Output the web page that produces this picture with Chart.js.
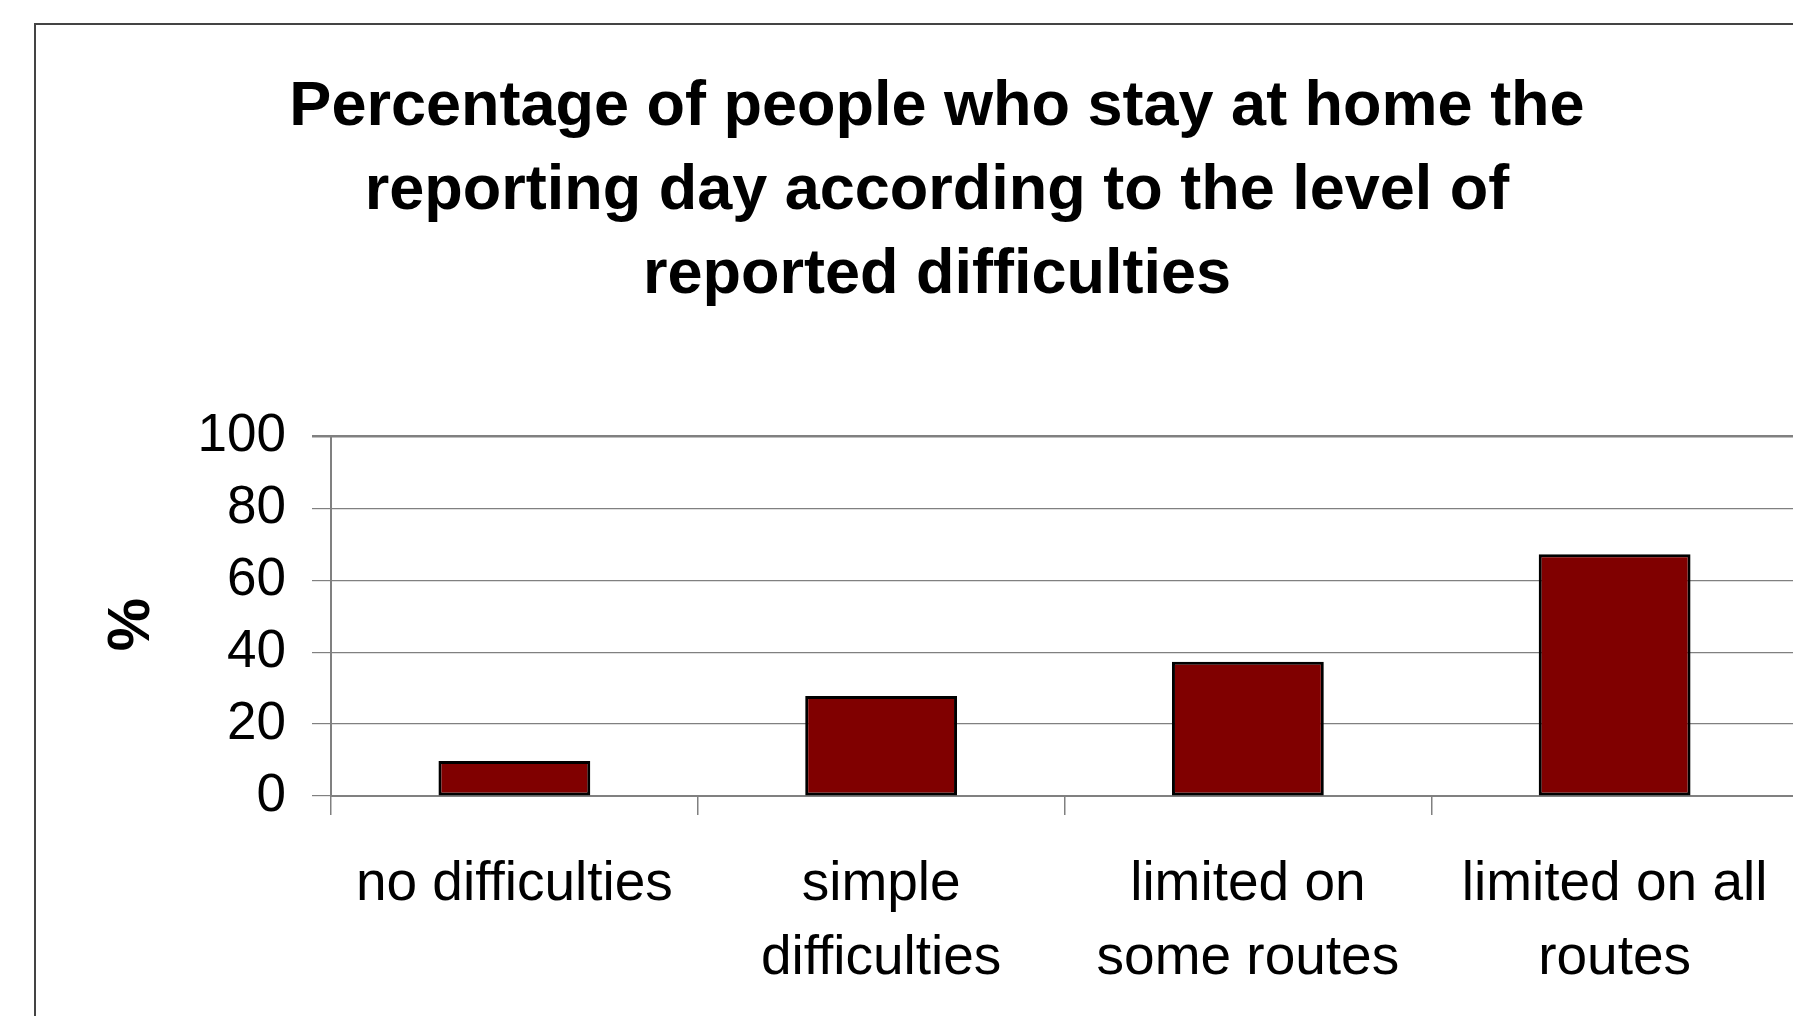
<!DOCTYPE html>
<html>
<head>
<meta charset="utf-8">
<script src="https://cdn.jsdelivr.net/npm/chart.js@4.4.1/dist/chart.umd.min.js"></script>
<style>
  html, body { margin: 0; padding: 0; background: #fff; overflow: hidden; }
  #frame {
    position: absolute; left: 34px; top: 23px;
    border: 2px solid #444;
    width: 1802px; height: 1000px;
  }
  canvas { display: block; }
</style>
</head>
<body>
<div id="frame"><canvas id="stayChart" width="1802" height="1000"></canvas></div>
<script>
// Categories (multi-line labels as drawn under the axis)
const categories = [
    ['no difficulties'],
    ['simple', 'difficulties'],
    ['limited on', 'some routes'],
    ['limited on all', 'routes']
];
// % of people who stayed at home on the reporting day
const stayHome = [9.7, 27.8, 37.3, 67.2];
const yTicks = [0, 20, 40, 60, 80, 100];

const titleLines = [
    'Percentage of people who stay at home the',
    'reporting day according to the level of',
    'reported difficulties'
];

const FONT = '"Liberation Sans", Arial, sans-serif';
const GRID = '#808080';

function initChart() {
    const ctx = document.getElementById('stayChart').getContext('2d');

    new Chart(ctx, {
    type: 'bar',
    data: {
        labels: categories,
        datasets: [{
        label: '%',
        data: stayHome,
        backgroundColor: '#800000',
        borderColor: '#000000',
        borderWidth: 3,
        borderSkipped: false,
        categoryPercentage: 1.0,
        barPercentage: 0.414
        }]
    },
    options: {
        responsive: false,
        animation: false,
        layout: { padding: { left: 40, right: 40, top: 0, bottom: 0 } },
        plugins: {
        legend: { display: false },
        tooltip: { enabled: false },
        title: {
            display: true,
            text: titleLines,
            color: '#000',
            font: { family: FONT, size: 63, weight: 'bold', lineHeight: 1.33 },
            padding: { top: 41, bottom: 119 }
        }
        },
        scales: {
        x: {
            offset: true,
            grid: {
            display: true,
            offset: true,
            drawOnChartArea: false,
            drawTicks: true,
            tickLength: 19,
            color: GRID,
            lineWidth: 1.5
            },
            border: { display: true, color: GRID, width: 2 },
            ticks: {
            color: '#000',
            font: { family: FONT, size: 55, lineHeight: 1.36 },
            padding: 32,
            maxRotation: 0,
            autoSkip: false
            },
            afterFit: (scale) => { scale.height = 229; }
        },
        y: {
            min: 0,
            max: 100,
            afterBuildTicks: (scale) => { scale.ticks = yTicks.map(v => ({ value: v })); },
            grid: {
            color: GRID,
            lineWidth: (c) => (c.tick && c.tick.value === 100 ? 2.5 : 1.2),
            tickLength: 19,
            drawTicks: true
            },
            border: { display: true, color: GRID, width: 2 },
            ticks: {
            color: '#000',
            font: { family: FONT, size: 53 },
            padding: 26
            },
            title: {
            display: true,
            text: '%\u00a0',
            color: '#000',
            font: { family: FONT, size: 60, weight: 'bold', lineHeight: 1.2 },
            padding: { top: 20, bottom: 0 }
            },
            afterFit: (scale) => { scale.width = 255; }
        }
        }
    }
    });
}

initChart();
</script>
</body>
</html>
